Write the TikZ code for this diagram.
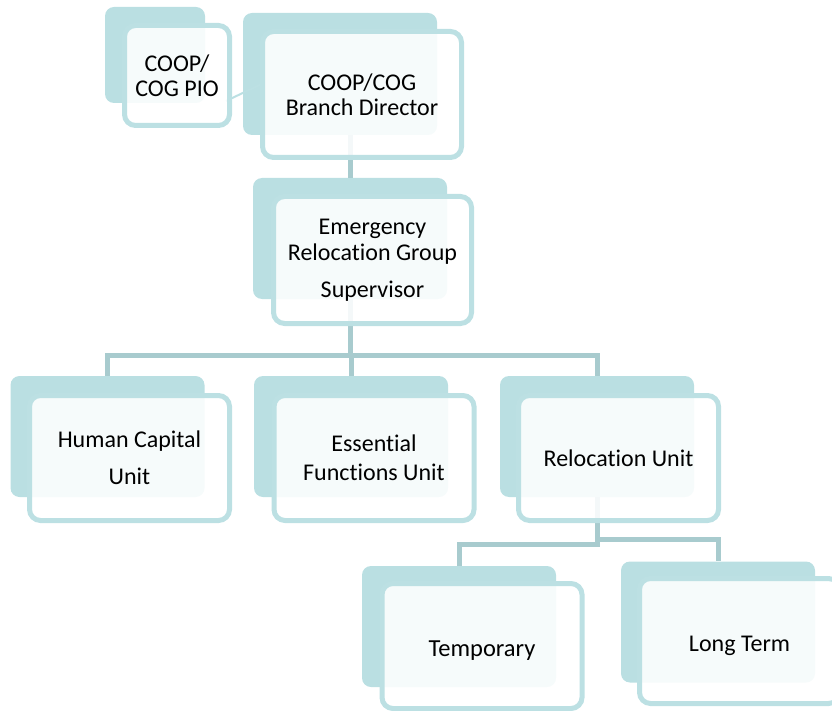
\documentclass[tikz,border=0pt]{standalone}
\usepackage{fontspec}
\setmainfont{Carlito}[Ligatures=NoCommon]
\definecolor{backc}{RGB}{186,223,226}
\definecolor{edgec}{RGB}{188,224,227}
\definecolor{connc}{RGB}{168,203,206}
\begin{document}
\begin{tikzpicture}[x=1pt,y=-1pt,
  back/.style={fill=backc, rounded corners=9pt, inner sep=0pt, minimum width=194pt, minimum height=121pt},
  front/.style={draw=edgec, line width=5pt, fill=white, fill opacity=0.88, text opacity=1,
     rounded corners=11pt, align=center, inner sep=0pt, text=black,
     minimum width=200pt, minimum height=125pt},
  lowtext/.style={text height=22pt, text depth=2pt},
  conn/.style={draw=connc, line width=5pt},
  thin/.style={draw=edgec, line width=2pt}]
\useasboundingbox (0,0) rectangle (832,711);
% back plates
\node[back, minimum width=100pt, minimum height=96pt] (pioB) at (155,55) {};
\node[back, minimum height=122pt] (dirB) at (340,74) {};
\node[back] (ergB) at (350,238.5) {};
\node[back] (hcB) at (107.5,436.5) {};
\node[back] (efB) at (351,436.5) {};
\node[back] (ruB) at (597,436.5) {};
\node[back] (tmB) at (459,626.5) {};
\node[back] (ltB) at (718,622) {};
% connectors
\coordinate (pioL) at (226,101);
\coordinate (dirL) at (272,79);
\coordinate (j1) at (351,355);
\coordinate (j2) at (597,544);
\coordinate (j3) at (597,539);
\draw[thin] (pioL) -- (dirL);
\draw[conn] (ergB.north) -- (ergB.north |- dirB.south);
\draw[conn] (ergB.south) -- (ergB.south |- j1);
\draw[conn] (hcB.north) -- (hcB.north |- j1) -- (ruB.north |- j1) -- (ruB.north);
\draw[conn] (efB.north) -- (efB.north |- j1);
\draw[conn] (ruB.south) -- (ruB.south |- j2) -- (tmB.north |- j2) -- (tmB.north);
\draw[conn] (ruB.south |- j3) -- (ltB.north |- j3) -- (ltB.north);
% front cards
\node[front, minimum width=105pt, minimum height=100pt, font=\fontsize{24}{25}\selectfont] (pio) at (177,75.5) {COOP/\\COG PIO};
\node[front, minimum width=199pt, minimum height=126pt, font=\fontsize{24}{25}\selectfont] (dir) at (362,94.5) {COOP/COG\\Branch Director};
\node[front, minimum width=198pt, minimum height=127pt, font=\fontsize{24}{26}\selectfont] (erg) at (372.5,260) {Emergency\\Relocation Group\\[11pt]Supervisor};
\node[front, font=\fontsize{24}{25}\selectfont] (hc) at (129.5,458) {Human Capital\\[12pt]Unit};
\node[front, font=\fontsize{24}{29}\selectfont] (ef) at (374,458) {Essential\\Functions Unit};
\node[front, font=\fontsize{24}{25}\selectfont] (ru) at (618.5,458) {Relocation Unit};
\node[front, lowtext, font=\fontsize{24.5}{25}\selectfont] (tm) at (482,646) {Temporary};
\node[front, lowtext, font=\fontsize{24}{25}\selectfont] (lt) at (739.5,641) {Long Term};
\end{tikzpicture}
\end{document}
